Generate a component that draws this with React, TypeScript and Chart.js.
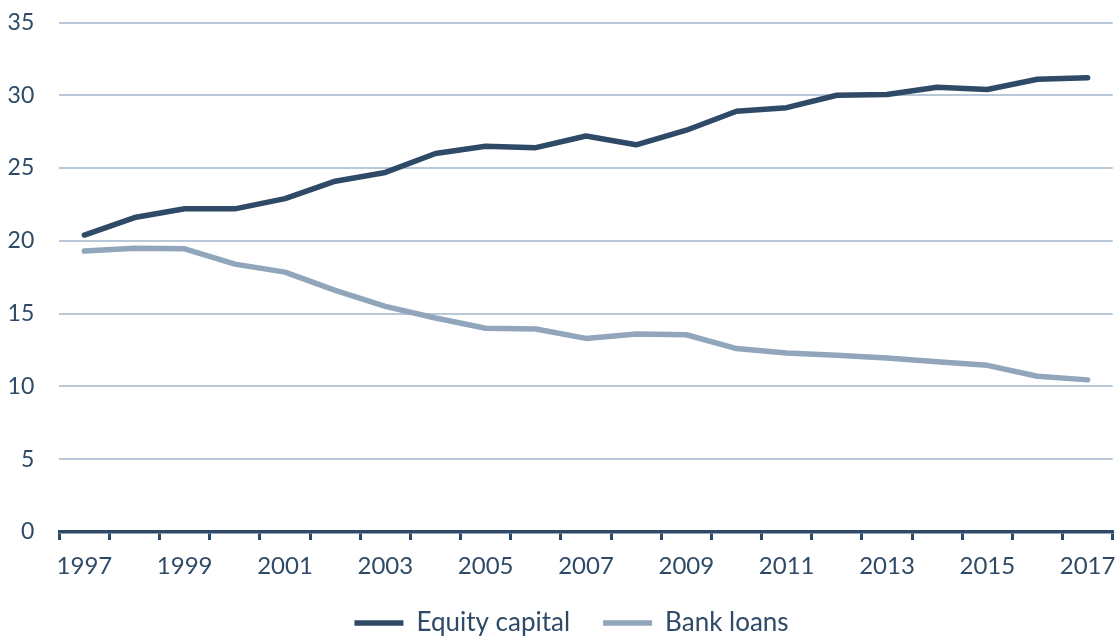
import React, { useEffect, useRef } from "react";
import { Chart, registerables } from "chart.js";

Chart.register(...registerables);

const years = [
  "1997", "1998", "1999", "2000", "2001", "2002", "2003", "2004", "2005", "2006",
  "2007", "2008", "2009", "2010", "2011", "2012", "2013", "2014", "2015", "2016", "2017",
];
const equityCapital = [
  20.4, 21.6, 22.2, 22.2, 22.9, 24.1, 24.7, 26.0, 26.5, 26.4,
  27.2, 26.6, 27.6, 28.9, 29.15, 30.0, 30.05, 30.55, 30.4, 31.1, 31.2,
];
const bankLoans = [
  19.3, 19.5, 19.45, 18.4, 17.85, 16.6, 15.5, 14.7, 14.0, 13.95,
  13.3, 13.6, 13.55, 12.6, 12.3, 12.15, 11.95, 11.7, 11.45, 10.7, 10.45,
];
const yTicks = [0, 5, 10, 15, 20, 25, 30, 35];

const DARK = "#2E4A66";
const LIGHT = "#91A6BB";
const GRID = "#B9C8D6";
const FONT = "Lato";

const legendShift = {
  id: "legendShift",
  afterLayout(chart: any) {
    if (chart.legend) {
      chart.legend.left += 15;
      chart.legend.right += 15;
    }
  },
};

export default function App() {
  const ref = useRef<HTMLCanvasElement | null>(null);
  useEffect(() => {
    document.body.style.margin = "0";
    const canvas = ref.current!;
    const chart = new Chart(canvas, {
      type: "line",
      plugins: [legendShift],
      data: {
        labels: years,
        datasets: [
          {
            label: "Equity capital",
            data: equityCapital,
            borderColor: DARK,
            backgroundColor: DARK,
            borderWidth: 5.5,
            borderCapStyle: "round",
            borderJoinStyle: "round",
            pointRadius: 0,
            tension: 0,
          },
          {
            label: "Bank loans",
            data: bankLoans,
            borderColor: LIGHT,
            backgroundColor: LIGHT,
            borderWidth: 5.5,
            borderCapStyle: "round",
            borderJoinStyle: "round",
            pointRadius: 0,
            tension: 0,
          },
        ],
      },
      options: {
        responsive: false,
        animation: false,
        maintainAspectRatio: false,
        layout: { padding: { top: 22.5, right: 3.3, left: 0.3, bottom: -10 } },
        plugins: {
          tooltip: { enabled: false },
          legend: {
            position: "bottom",
            labels: {
              usePointStyle: true,
              pointStyle: "line",
              pointStyleWidth: 49,
              boxHeight: 6,
              color: DARK,
              padding: 33,
              font: { family: FONT, size: 26 },
            },
          },
        },
        scales: {
          x: {
            type: "category",
            offset: true,
            afterFit: (s: any) => {
              s.height = 45;
              s.paddingLeft = 0;
              s.paddingRight = 0;
            },
            grid: {
              display: true,
              offset: true,
              drawOnChartArea: false,
              drawTicks: true,
              tickLength: 8,
              color: DARK,
              lineWidth: 3,
            },
            border: { display: true, color: DARK, width: 3.5 },
            ticks: {
              autoSkip: false,
              maxRotation: 0,
              color: DARK,
              padding: 12,
              font: { family: FONT, size: 24 },
              callback: (_v: any, i: number) => (i % 2 === 0 ? years[i] : ""),
            },
          },
          y: {
            min: 0,
            max: 35,
            afterBuildTicks: (s: any) => {
              s.ticks = yTicks.map((v) => ({ value: v }));
            },
            afterFit: (s: any) => {
              s.width = 59;
              s.paddingTop = 0;
              s.paddingBottom = 0;
            },
            grid: {
              color: (ctx: any) => (ctx.tick && ctx.tick.value === 0 ? "rgba(0,0,0,0)" : GRID),
              lineWidth: 2,
              drawTicks: false,
            },
            border: { display: false },
            ticks: {
              color: DARK,
              padding: 25,
              font: { family: FONT, size: 23 },
            },
          },
        },
      },
    });
    return () => chart.destroy();
  }, []);
  return (
    <div style={{ width: 1116, height: 636 }}>
      <canvas ref={ref} width={1116} height={636} style={{ display: "block" }} />
    </div>
  );
}
